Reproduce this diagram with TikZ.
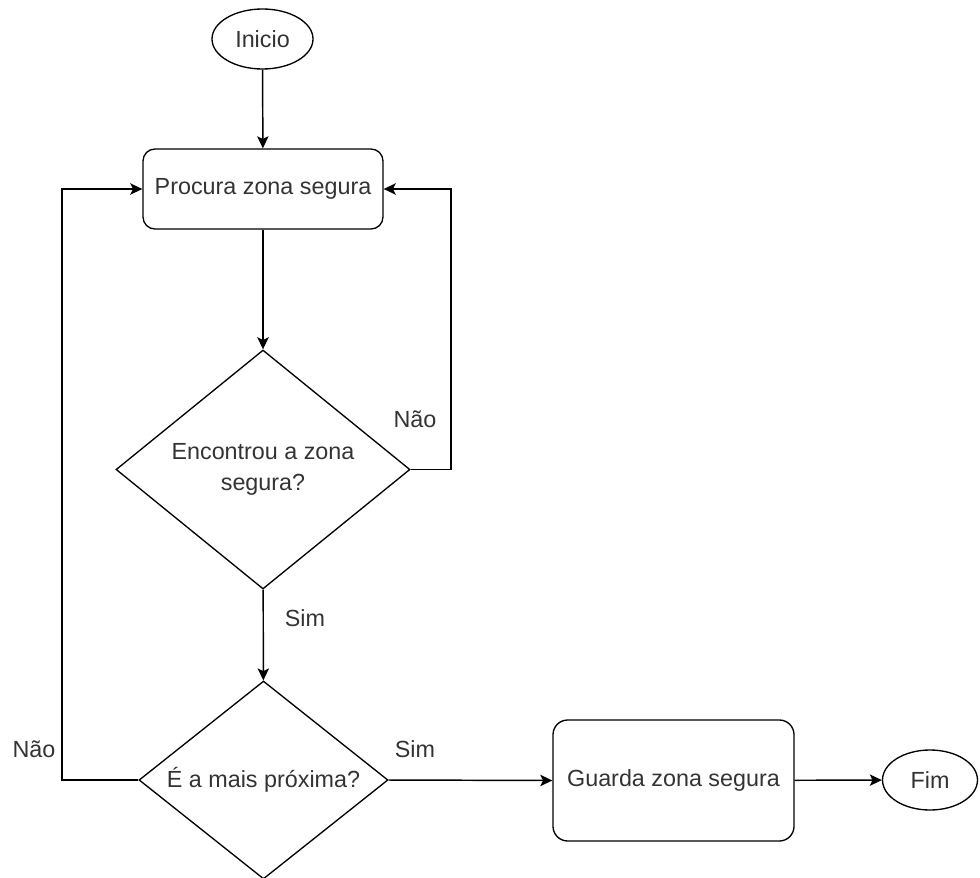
\documentclass[tikz,border=0pt]{standalone}
\usepackage{fontspec}
\setmainfont{Liberation Sans}
\usetikzlibrary{shapes.geometric,arrows.meta}
\begin{document}
\begin{tikzpicture}[x=0.75pt,y=-0.75pt,
  every node/.style={font=\fontsize{17.5}{23}\selectfont, text=black!80},
  terminal/.style={draw, ellipse, line width=1pt, inner sep=0pt},
  process/.style={draw, rectangle, rounded corners=9pt, line width=1pt, inner sep=0pt},
  decision/.style={draw, diamond, line width=1pt, inner sep=0pt, align=center},
  flow/.style={line width=1.1pt, -{Stealth[length=9pt,width=8.5pt,inset=2pt]}},
  tag/.style={inner sep=0pt}]
\useasboundingbox (0,0) rectangle (980,877);

% nodes
\node[terminal, minimum width=75.75pt, minimum height=45pt] (ini) at (262.5,39) {Inicio};
\node[process, minimum width=180pt, minimum height=60pt] (proc) at (263,189) {Procura zona segura};
\node[decision, aspect=1.23, minimum width=220.5pt, minimum height=179.25pt] (d1) at (263,469.5) {Encontrou a zona\\segura?};
\node[decision, aspect=1.26, minimum width=186.75pt, minimum height=148.5pt] (d2) at (263.5,780) {É a mais próxima?};
\node[process, rounded corners=11pt, minimum width=180.75pt, minimum height=90.75pt] (save) at (673.5,780.5) {Guarda zona segura};
\node[terminal, minimum width=71.25pt, minimum height=45pt] (fim) at (930,780) {Fim};

% loop-back columns
\coordinate (loopR) at (451,0);
\coordinate (loopL) at (62,0);

% connectors
\draw[flow] (ini) -- (proc);
\draw[flow] (proc) -- (d1);
\draw[flow] (d1.east) -- (d1.east -| loopR) |- (proc.east);
\draw[flow] (d1) -- (d2);
\draw[flow] (d2.west) -- (d2.west -| loopL) |- (proc.west);
\draw[flow] (d2.east) -- (save.west);
\draw[flow] (save) -- (fim);

% branch labels
\node[tag] (n1) at (415,419) {Não};
\node[tag] (s1) at (305,618) {Sim};
\node[tag] (n2) at (34,749) {Não};
\node[tag] (s2) at (415,749) {Sim};
\end{tikzpicture}
\end{document}
